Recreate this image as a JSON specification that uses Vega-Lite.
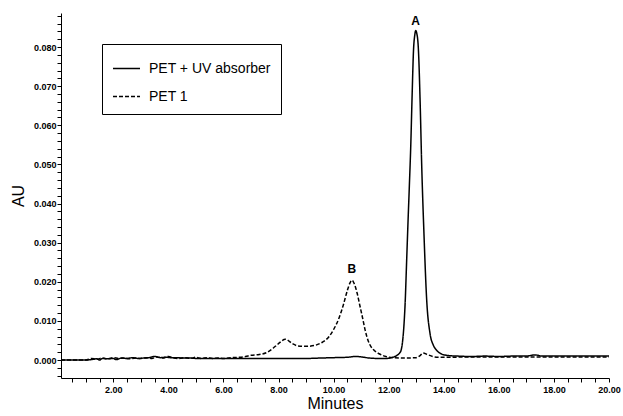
{
  "$schema": "https://vega.github.io/schema/vega-lite/v6.json",
  "width": 548,
  "height": 365,
  "autosize": {"type": "none"},
  "padding": {"left": 61, "top": 13, "right": 14, "bottom": 38},
  "background": "white",
  "config": {
    "view": {"stroke": null},
    "font": "Liberation Sans",
    "axis": {"grid": false, "domainColor": "black", "tickColor": "black", "labelColor": "black", "titleColor": "black", "labelFont": "Liberation Sans", "titleFont": "Liberation Sans", "titleFontWeight": "normal", "labelFontWeight": "bold"}
  },
  "datasets": {
    "traces": [
      {"t": 0.1, "au": 0.0000, "series": "PET + UV absorber"},
      {"t": 0.5, "au": 0.0000, "series": "PET + UV absorber"},
      {"t": 1.0, "au": 0.0000, "series": "PET + UV absorber"},
      {"t": 1.2, "au": 0.0001, "series": "PET + UV absorber"},
      {"t": 1.4, "au": 0.0003, "series": "PET + UV absorber"},
      {"t": 1.5, "au": 0.0000, "series": "PET + UV absorber"},
      {"t": 1.6, "au": 0.0004, "series": "PET + UV absorber"},
      {"t": 1.8, "au": 0.0003, "series": "PET + UV absorber"},
      {"t": 2.0, "au": 0.0004, "series": "PET + UV absorber"},
      {"t": 2.1, "au": 0.0001, "series": "PET + UV absorber"},
      {"t": 2.3, "au": 0.0005, "series": "PET + UV absorber"},
      {"t": 2.5, "au": 0.0004, "series": "PET + UV absorber"},
      {"t": 2.7, "au": 0.0006, "series": "PET + UV absorber"},
      {"t": 2.9, "au": 0.0004, "series": "PET + UV absorber"},
      {"t": 3.1, "au": 0.0005, "series": "PET + UV absorber"},
      {"t": 3.3, "au": 0.0006, "series": "PET + UV absorber"},
      {"t": 3.5, "au": 0.0009, "series": "PET + UV absorber"},
      {"t": 3.7, "au": 0.0006, "series": "PET + UV absorber"},
      {"t": 3.9, "au": 0.0007, "series": "PET + UV absorber"},
      {"t": 4.1, "au": 0.0006, "series": "PET + UV absorber"},
      {"t": 4.3, "au": 0.0006, "series": "PET + UV absorber"},
      {"t": 4.5, "au": 0.0005, "series": "PET + UV absorber"},
      {"t": 4.8, "au": 0.0005, "series": "PET + UV absorber"},
      {"t": 5.0, "au": 0.0004, "series": "PET + UV absorber"},
      {"t": 5.5, "au": 0.0004, "series": "PET + UV absorber"},
      {"t": 6.0, "au": 0.0004, "series": "PET + UV absorber"},
      {"t": 6.5, "au": 0.0004, "series": "PET + UV absorber"},
      {"t": 7.0, "au": 0.0004, "series": "PET + UV absorber"},
      {"t": 7.5, "au": 0.0004, "series": "PET + UV absorber"},
      {"t": 8.0, "au": 0.0004, "series": "PET + UV absorber"},
      {"t": 8.5, "au": 0.0004, "series": "PET + UV absorber"},
      {"t": 9.0, "au": 0.0004, "series": "PET + UV absorber"},
      {"t": 9.5, "au": 0.0005, "series": "PET + UV absorber"},
      {"t": 10.0, "au": 0.0006, "series": "PET + UV absorber"},
      {"t": 10.5, "au": 0.0007, "series": "PET + UV absorber"},
      {"t": 10.8, "au": 0.0009, "series": "PET + UV absorber"},
      {"t": 11.0, "au": 0.0008, "series": "PET + UV absorber"},
      {"t": 11.3, "au": 0.0005, "series": "PET + UV absorber"},
      {"t": 11.6, "au": 0.0004, "series": "PET + UV absorber"},
      {"t": 11.9, "au": 0.0004, "series": "PET + UV absorber"},
      {"t": 12.1, "au": 0.0006, "series": "PET + UV absorber"},
      {"t": 12.3, "au": 0.0012, "series": "PET + UV absorber"},
      {"t": 12.4, "au": 0.0018, "series": "PET + UV absorber"},
      {"t": 12.45, "au": 0.0025, "series": "PET + UV absorber"},
      {"t": 12.5, "au": 0.0045, "series": "PET + UV absorber"},
      {"t": 12.55, "au": 0.0085, "series": "PET + UV absorber"},
      {"t": 12.6, "au": 0.0150, "series": "PET + UV absorber"},
      {"t": 12.65, "au": 0.0250, "series": "PET + UV absorber"},
      {"t": 12.7, "au": 0.0350, "series": "PET + UV absorber"},
      {"t": 12.75, "au": 0.0445, "series": "PET + UV absorber"},
      {"t": 12.8, "au": 0.0545, "series": "PET + UV absorber"},
      {"t": 12.85, "au": 0.0675, "series": "PET + UV absorber"},
      {"t": 12.9, "au": 0.0790, "series": "PET + UV absorber"},
      {"t": 12.95, "au": 0.0832, "series": "PET + UV absorber"},
      {"t": 12.98, "au": 0.0842, "series": "PET + UV absorber"},
      {"t": 13.02, "au": 0.0835, "series": "PET + UV absorber"},
      {"t": 13.08, "au": 0.0792, "series": "PET + UV absorber"},
      {"t": 13.14, "au": 0.0664, "series": "PET + UV absorber"},
      {"t": 13.2, "au": 0.0494, "series": "PET + UV absorber"},
      {"t": 13.28, "au": 0.0324, "series": "PET + UV absorber"},
      {"t": 13.38, "au": 0.0153, "series": "PET + UV absorber"},
      {"t": 13.5, "au": 0.0068, "series": "PET + UV absorber"},
      {"t": 13.62, "au": 0.0038, "series": "PET + UV absorber"},
      {"t": 13.74, "au": 0.0025, "series": "PET + UV absorber"},
      {"t": 13.9, "au": 0.0016, "series": "PET + UV absorber"},
      {"t": 14.1, "au": 0.0012, "series": "PET + UV absorber"},
      {"t": 14.5, "au": 0.0010, "series": "PET + UV absorber"},
      {"t": 15.0, "au": 0.0009, "series": "PET + UV absorber"},
      {"t": 15.5, "au": 0.0010, "series": "PET + UV absorber"},
      {"t": 16.0, "au": 0.0009, "series": "PET + UV absorber"},
      {"t": 16.5, "au": 0.0010, "series": "PET + UV absorber"},
      {"t": 17.0, "au": 0.0010, "series": "PET + UV absorber"},
      {"t": 17.3, "au": 0.0013, "series": "PET + UV absorber"},
      {"t": 17.6, "au": 0.0010, "series": "PET + UV absorber"},
      {"t": 18.0, "au": 0.0010, "series": "PET + UV absorber"},
      {"t": 18.5, "au": 0.0010, "series": "PET + UV absorber"},
      {"t": 19.0, "au": 0.0010, "series": "PET + UV absorber"},
      {"t": 19.5, "au": 0.0010, "series": "PET + UV absorber"},
      {"t": 20.0, "au": 0.0010, "series": "PET + UV absorber"},
      {"t": 0.1, "au": 0.0000, "series": "PET 1"},
      {"t": 1.0, "au": 0.0000, "series": "PET 1"},
      {"t": 1.2, "au": 0.0004, "series": "PET 1"},
      {"t": 1.4, "au": 0.0002, "series": "PET 1"},
      {"t": 1.6, "au": 0.0005, "series": "PET 1"},
      {"t": 1.8, "au": 0.0003, "series": "PET 1"},
      {"t": 2.0, "au": 0.0006, "series": "PET 1"},
      {"t": 2.2, "au": 0.0004, "series": "PET 1"},
      {"t": 2.4, "au": 0.0005, "series": "PET 1"},
      {"t": 2.6, "au": 0.0003, "series": "PET 1"},
      {"t": 2.8, "au": 0.0005, "series": "PET 1"},
      {"t": 3.0, "au": 0.0004, "series": "PET 1"},
      {"t": 3.2, "au": 0.0006, "series": "PET 1"},
      {"t": 3.4, "au": 0.0004, "series": "PET 1"},
      {"t": 3.6, "au": 0.0008, "series": "PET 1"},
      {"t": 3.8, "au": 0.0005, "series": "PET 1"},
      {"t": 4.0, "au": 0.0009, "series": "PET 1"},
      {"t": 4.2, "au": 0.0005, "series": "PET 1"},
      {"t": 4.4, "au": 0.0004, "series": "PET 1"},
      {"t": 4.6, "au": 0.0006, "series": "PET 1"},
      {"t": 4.8, "au": 0.0004, "series": "PET 1"},
      {"t": 5.0, "au": 0.0007, "series": "PET 1"},
      {"t": 5.2, "au": 0.0004, "series": "PET 1"},
      {"t": 5.4, "au": 0.0006, "series": "PET 1"},
      {"t": 5.6, "au": 0.0004, "series": "PET 1"},
      {"t": 5.8, "au": 0.0005, "series": "PET 1"},
      {"t": 6.0, "au": 0.0004, "series": "PET 1"},
      {"t": 6.3, "au": 0.0006, "series": "PET 1"},
      {"t": 6.6, "au": 0.0007, "series": "PET 1"},
      {"t": 6.8, "au": 0.0009, "series": "PET 1"},
      {"t": 7.0, "au": 0.0012, "series": "PET 1"},
      {"t": 7.3, "au": 0.0014, "series": "PET 1"},
      {"t": 7.6, "au": 0.0020, "series": "PET 1"},
      {"t": 7.8, "au": 0.0030, "series": "PET 1"},
      {"t": 8.0, "au": 0.0042, "series": "PET 1"},
      {"t": 8.25, "au": 0.0053, "series": "PET 1"},
      {"t": 8.5, "au": 0.0042, "series": "PET 1"},
      {"t": 8.7, "au": 0.0036, "series": "PET 1"},
      {"t": 9.0, "au": 0.0035, "series": "PET 1"},
      {"t": 9.3, "au": 0.0037, "series": "PET 1"},
      {"t": 9.6, "au": 0.0046, "series": "PET 1"},
      {"t": 9.8, "au": 0.0057, "series": "PET 1"},
      {"t": 10.0, "au": 0.0078, "series": "PET 1"},
      {"t": 10.2, "au": 0.0108, "series": "PET 1"},
      {"t": 10.35, "au": 0.0140, "series": "PET 1"},
      {"t": 10.5, "au": 0.0178, "series": "PET 1"},
      {"t": 10.6, "au": 0.0198, "series": "PET 1"},
      {"t": 10.67, "au": 0.0204, "series": "PET 1"},
      {"t": 10.75, "au": 0.0195, "series": "PET 1"},
      {"t": 10.85, "au": 0.0172, "series": "PET 1"},
      {"t": 10.95, "au": 0.0140, "series": "PET 1"},
      {"t": 11.05, "au": 0.0108, "series": "PET 1"},
      {"t": 11.15, "au": 0.0075, "series": "PET 1"},
      {"t": 11.25, "au": 0.0050, "series": "PET 1"},
      {"t": 11.35, "au": 0.0035, "series": "PET 1"},
      {"t": 11.5, "au": 0.0023, "series": "PET 1"},
      {"t": 11.65, "au": 0.0016, "series": "PET 1"},
      {"t": 11.9, "au": 0.0009, "series": "PET 1"},
      {"t": 12.2, "au": 0.0006, "series": "PET 1"},
      {"t": 12.6, "au": 0.0005, "series": "PET 1"},
      {"t": 13.0, "au": 0.0006, "series": "PET 1"},
      {"t": 13.15, "au": 0.0012, "series": "PET 1"},
      {"t": 13.25, "au": 0.0018, "series": "PET 1"},
      {"t": 13.4, "au": 0.0014, "series": "PET 1"},
      {"t": 13.6, "au": 0.0009, "series": "PET 1"},
      {"t": 13.8, "au": 0.0007, "series": "PET 1"},
      {"t": 14.2, "au": 0.0007, "series": "PET 1"},
      {"t": 15.0, "au": 0.0008, "series": "PET 1"},
      {"t": 16.0, "au": 0.0008, "series": "PET 1"},
      {"t": 17.0, "au": 0.0008, "series": "PET 1"},
      {"t": 18.0, "au": 0.0008, "series": "PET 1"},
      {"t": 19.0, "au": 0.0008, "series": "PET 1"},
      {"t": 20.0, "au": 0.0008, "series": "PET 1"}
    ],
    "peaklabels": [
      {"t": 12.98, "au": 0.0866, "label": "A"},
      {"t": 10.66, "au": 0.0233, "label": "B"}
    ]
  },
  "layer": [
    {
      "data": {"name": "traces"},
      "mark": {"type": "line", "color": "black", "strokeWidth": 1.5, "interpolate": "monotone", "clip": true},
      "encoding": {
        "x": {
          "field": "t", "type": "quantitative",
          "scale": {"domain": [0.1, 20], "nice": false, "zero": false},
          "axis": {
            "title": "Minutes", "titleFontSize": 16, "titlePadding": 1,
            "values": [0.5,1,1.5,2,2.5,3,3.5,4,4.5,5,5.5,6,6.5,7,7.5,8,8.5,9,9.5,10,10.5,11,11.5,12,12.5,13,13.5,14,14.5,15,15.5,16,16.5,17,17.5,18,18.5,19,19.5,20],
            "tickCount": 500,
            "labelExpr": "(datum.value % 2 == 0) ? format(datum.value, '.2f') : ''",
            "labelFontSize": 9, "labelPadding": 3, "tickSize": 4, "labelFlush": false, "labelOverlap": false
          }
        },
        "y": {
          "field": "au", "type": "quantitative",
          "scale": {"domain": [-0.0046, 0.0887], "nice": false, "zero": false},
          "axis": {
            "title": "AU", "titleFontSize": 16, "titlePadding": 7,
            "values": [-0.004,-0.002,0,0.002,0.004,0.006,0.008,0.01,0.012,0.014,0.016,0.018,0.02,0.022,0.024,0.026,0.028,0.03,0.032,0.034,0.036,0.038,0.04,0.042,0.044,0.046,0.048,0.05,0.052,0.054,0.056,0.058,0.06,0.062,0.064,0.066,0.068,0.07,0.072,0.074,0.076,0.078,0.08,0.082,0.084,0.086,0.088],
            "tickCount": 500,
            "labelExpr": "(datum.value >= 0 && abs(datum.value * 100 - round(datum.value * 100)) < 0.001) ? format(datum.value, '.3f') : ''",
            "labelFontSize": 9, "labelPadding": 1, "tickSize": 4, "labelFlush": false, "labelOverlap": false
          }
        },
        "strokeDash": {
          "field": "series", "type": "nominal",
          "scale": {"domain": ["PET + UV absorber", "PET 1"]},
          "legend": {
            "title": null, "orient": "none", "legendX": 41, "legendY": 31,
            "strokeColor": "black", "padding": 10,
            "symbolType": "stroke", "symbolSize": 729, "symbolStrokeColor": "black", "symbolStrokeWidth": 1.3,
            "labelFontSize": 14, "labelFont": "Liberation Sans", "labelColor": "black", "labelOffset": 8,
            "rowPadding": 6, "labelLimit": 300
          }
        }
      }
    },
    {
      "data": {"name": "peaklabels"},
      "mark": {"type": "text", "fontSize": 12, "fontWeight": "bold", "color": "black", "font": "Liberation Sans"},
      "encoding": {
        "x": {"field": "t", "type": "quantitative"},
        "y": {"field": "au", "type": "quantitative"},
        "text": {"field": "label"}
      }
    }
  ]
}
